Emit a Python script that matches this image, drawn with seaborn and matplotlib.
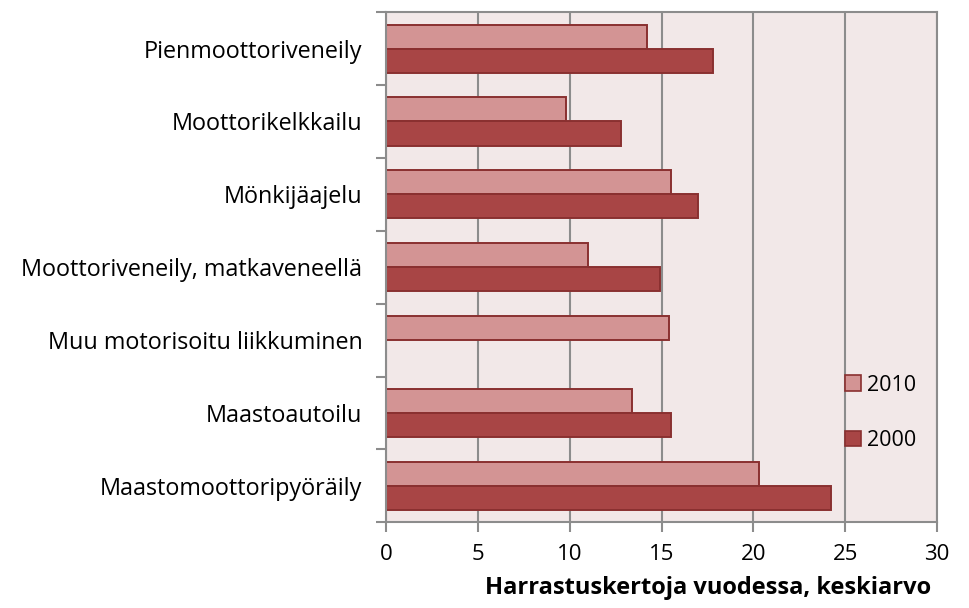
import numpy as np
import pandas as pd
import seaborn as sns
import matplotlib.pyplot as plt
from matplotlib.patches import Patch

# --- datos ---
categories = [
    "Pienmoottoriveneily",
    "Moottorikelkkailu",
    "Mönkijäajelu",
    "Moottoriveneily, matkaveneellä",
    "Muu motorisoitu liikkuminen",
    "Maastoautoilu",
    "Maastomoottoripyöräily",
]
values_2010 = [14.2, 9.8, 15.5, 11.0, 15.4, 13.4, 20.3]
values_2000 = [17.8, 12.8, 17.0, 14.9, np.nan, 15.5, 24.2]
years = ["2010", "2000"]
x_ticks = [0, 5, 10, 15, 20, 25, 30]
x_label = "Harrastuskertoja vuodessa, keskiarvo"

df = pd.DataFrame({
    "kategoria": categories * 2,
    "vuosi": [years[0]] * len(categories) + [years[1]] * len(categories),
    "arvo": values_2010 + values_2000,
})

sns.set_style("white")
plt.rcParams["font.family"] = ["Open Sans", "DejaVu Sans"]
plt.rcParams["text.color"] = "black"
plt.rcParams["axes.labelcolor"] = "black"

col_light = "#D39494"
col_dark = "#A84545"
edge = "#8A3030"
grid_col = "#8C8C8C"

fig = plt.figure(figsize=(9.7, 6.08), dpi=100)
ax = fig.add_axes([0.398, 0.141, 0.568, 0.839])
ax.set_facecolor("#F2E8E8")

sns.barplot(data=df, y="kategoria", x="arvo", hue="vuosi", hue_order=years,
            order=categories, palette=[col_light, col_dark], orient="h",
            width=0.66, edgecolor=edge, linewidth=1.4, ax=ax, legend=False,
            saturation=1)

ax.set_xlim(0, 30)
ax.set_ylim(len(categories) - 0.5, -0.5)
ax.set_xticks(x_ticks)
ax.set_xticklabels([str(t) for t in x_ticks], fontsize=16)
ax.xaxis.grid(True, color=grid_col, linewidth=1.5)
ax.set_axisbelow(True)

# marcas del eje y en los límites de categoría
ax.set_yticks(range(len(categories)))
ax.set_yticklabels(categories, fontsize=16.8)
ax.set_yticks(np.arange(-0.5, len(categories), 1.0), minor=True)
ax.tick_params(axis="y", which="major", left=False, length=0, pad=17, labelcolor="black")
ax.tick_params(axis="y", which="minor", left=True, length=7, width=1.5,
               color=grid_col, direction="out")
ax.tick_params(axis="x", which="major", bottom=True, length=7, width=1.5,
               color=grid_col, direction="out", pad=9, labelcolor="black")

for s in ax.spines.values():
    s.set_color(grid_col)
    s.set_linewidth(1.5)

ax.set_ylabel("")
ax.set_xlabel(x_label, fontsize=17, fontweight="bold", ha="right")
ax.xaxis.set_label_coords(0.99, -0.105)

handles = [Patch(facecolor=col_light, edgecolor=edge, linewidth=1.2),
           Patch(facecolor=col_dark, edgecolor=edge, linewidth=1.2)]
fig.legend(handles, years, loc="center left", bbox_to_anchor=(0.851, 0.321),
           frameon=False, fontsize=15.5, handlelength=0.75, handleheight=0.75,
           handletextpad=0.3, labelspacing=1.6)

fig.savefig("out.png", dpi=100)
